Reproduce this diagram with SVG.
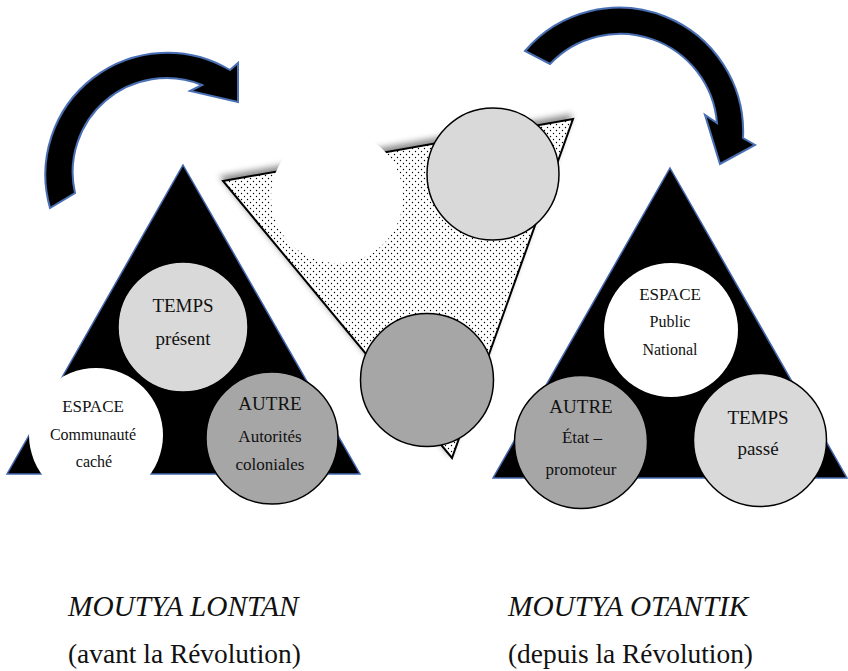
<svg xmlns="http://www.w3.org/2000/svg" width="848" height="671" viewBox="0 0 848 671">
<defs>
<pattern id="dots" width="6" height="6" patternUnits="userSpaceOnUse">
<rect width="6" height="6" fill="#fff"/>
<circle cx="1.5" cy="1.5" r="0.7" fill="#000"/>
<circle cx="4.5" cy="4.5" r="0.7" fill="#000"/>
</pattern>
<filter id="shadow" x="-10%" y="-20%" width="120%" height="140%">
<feDropShadow dx="-2" dy="-4" stdDeviation="3" flood-color="#000" flood-opacity="0.45"/>
</filter>
<filter id="soft" x="-5%" y="-5%" width="110%" height="110%">
<feGaussianBlur stdDeviation="0.4"/>
</filter>
</defs>
<style>
.tri{fill:#000;stroke:#4468b0;stroke-width:1.5}
.arrow{fill:#050505;stroke:#4a6fb4;stroke-width:2;stroke-linejoin:miter}
.lg{fill:#d9d9d9;stroke:#000;stroke-width:1.5}
.mg{fill:#a6a6a6;stroke:#000;stroke-width:1.5}
.wh{fill:#fff}
.t{font-family:'Liberation Serif','Times New Roman','DejaVu Serif',serif;fill:#111;text-anchor:middle}
.big{font-size:19px}
.mid{font-size:17px}
.sm{font-size:16px}
.title{font-size:29.3px;font-style:italic;text-anchor:start}
.sub{font-size:27.4px;text-anchor:start}
</style>
<rect width="848" height="671" fill="#fff"/>
<g id="connectors">
<path class="arrow" filter="url(#soft)" d="M50,208 A122,122 0 0 1 230,70 L238,63 L238,102 L190,91 L202,85 A94,94 0 0 0 75,193 Z"/>
<path class="arrow" filter="url(#soft)" d="M525,51 A124,124 0 0 1 743,138 L755,145 L720,164 L705,115 L717,123 A97,97 0 0 0 550,64 Z"/>
</g>
<g id="middle">
<polygon points="223,181 573,119 452,458" fill="url(#dots)" stroke="#000" stroke-width="2" filter="url(#shadow)"/>
<circle class="wh" cx="337" cy="197" r="66"/>
<circle class="lg" cx="493" cy="174" r="66"/>
<circle class="mg" cx="427" cy="380" r="66.5"/>
</g>
<g id="left-triangle">
<polygon class="tri" points="183,165 360,474 7,474"/>
<g id="left-temps">
<circle class="lg" cx="183" cy="327" r="65"/>
<text class="t big" x="183" y="312" font-family="Liberation Serif, serif">TEMPS</text>
<text class="t big" x="183" y="345" font-family="Liberation Serif, serif">présent</text>
</g>
<g id="left-espace">
<circle class="wh" cx="96" cy="435" r="67"/>
<text class="t mid" x="93" y="412" font-family="Liberation Serif, serif">ESPACE</text>
<text class="t sm" x="93" y="440" font-family="Liberation Serif, serif">Communauté</text>
<text class="t sm" x="94" y="467" font-family="Liberation Serif, serif">caché</text>
</g>
<g id="left-autre">
<circle class="mg" cx="272" cy="438" r="66"/>
<text class="t big" x="270" y="410" font-family="Liberation Serif, serif">AUTRE</text>
<text class="t mid" x="270" y="442" font-family="Liberation Serif, serif">Autorités</text>
<text class="t mid" x="270" y="470" font-family="Liberation Serif, serif">coloniales</text>
</g>
</g>
<g id="right-triangle">
<polygon class="tri" points="670,168 847,478 493,478"/>
<g id="right-espace">
<circle class="wh" cx="671" cy="330" r="67"/>
<text class="t mid" x="670" y="300" font-family="Liberation Serif, serif">ESPACE</text>
<text class="t sm" x="670" y="327" font-family="Liberation Serif, serif">Public</text>
<text class="t sm" x="670" y="355" font-family="Liberation Serif, serif">National</text>
</g>
<g id="right-autre">
<circle class="mg" cx="581" cy="442" r="66.5"/>
<text class="t big" x="581" y="413" font-family="Liberation Serif, serif">AUTRE</text>
<text class="t mid" x="582" y="443" font-family="Liberation Serif, serif">État –</text>
<text class="t mid" x="581" y="475" font-family="Liberation Serif, serif">promoteur</text>
</g>
<g id="right-temps">
<circle class="lg" cx="760" cy="440" r="66.5"/>
<text class="t big" x="758" y="424" font-family="Liberation Serif, serif">TEMPS</text>
<text class="t big" x="758" y="455" font-family="Liberation Serif, serif">passé</text>
</g>
</g>
<g id="labels">
<text class="t title" x="68" y="616" font-family="Liberation Serif, serif">MOUTYA LONTAN</text>
<text class="t sub" x="68" y="663" font-family="Liberation Serif, serif">(avant la Révolution)</text>
<text class="t title" x="508" y="616" font-family="Liberation Serif, serif">MOUTYA OTANTIK</text>
<text class="t sub" x="508" y="663" font-family="Liberation Serif, serif">(depuis la Révolution)</text>
</g>
</svg>
